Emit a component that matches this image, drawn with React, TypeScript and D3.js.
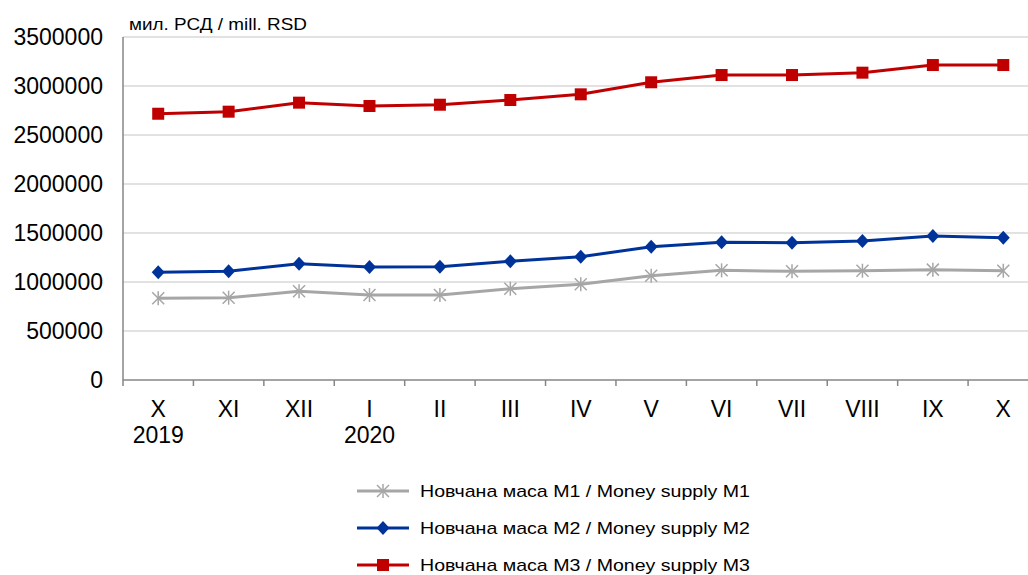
import React from "react";
import * as d3 from "d3";

const categories = ["X", "XI", "XII", "I", "II", "III", "IV", "V", "VI", "VII", "VIII", "IX", "X"];
const yearLabels = ["2019", "", "", "2020", "", "", "", "", "", "", "", "", ""];
const m1 = [834000, 840000, 905000, 867000, 867000, 932000, 977000, 1064000, 1119000, 1109000, 1115000, 1126000, 1115000];
const m2 = [1099000, 1109000, 1187000, 1153000, 1156000, 1211000, 1258000, 1360000, 1405000, 1401000, 1418000, 1469000, 1452000];
const m3 = [2717000, 2738000, 2830000, 2796000, 2809000, 2857000, 2915000, 3038000, 3112000, 3112000, 3136000, 3214000, 3214000];
const yTicks = [0, 500000, 1000000, 1500000, 2000000, 2500000, 3000000, 3500000];
const seriesNames = [
  "Новчана маса М1 / Money supply M1",
  "Новчана маса М2 / Money supply M2",
  "Новчана маса М3 / Money supply M3",
];
const unitLabel = "мил. РСД / mill. RSD";

const W = 1028;
const H = 575;
const left = 123;
const right = 1038.5;
const top = 37;
const bottom = 380;
const font = "'Liberation Sans', Arial, sans-serif";

const series = [
  { name: seriesNames[0], values: m1, color: "#a6a6a6", marker: "star" },
  { name: seriesNames[1], values: m2, color: "#003399", marker: "diamond" },
  { name: seriesNames[2], values: m3, color: "#c00000", marker: "square" },
];

function Marker({ type, x, y, color }: { type: string; x: number; y: number; color: string }) {
  if (type === "square") {
    return <rect x={x - 6} y={y - 6} width={12} height={12} fill={color} />;
  }
  if (type === "diamond") {
    return <path d={`M${x},${y - 7}L${x + 6.5},${y}L${x},${y + 7}L${x - 6.5},${y}Z`} fill={color} />;
  }
  const r = 6;
  return (
    <g stroke={color} strokeWidth={1.5}>
      <line x1={x - r} y1={y - r} x2={x + r} y2={y + r} />
      <line x1={x - r} y1={y + r} x2={x + r} y2={y - r} />
      <line x1={x} y1={y - r - 1} x2={x} y2={y + r + 1} />
    </g>
  );
}

export default function App() {
  const x = d3.scaleBand<string>().domain(categories.map((_, i) => String(i))).range([left, right]);
  const y = d3.scaleLinear().domain([0, 3500000]).range([bottom, top]);
  const cx = (i: number) => (x(String(i)) as number) + x.bandwidth() / 2;
  const line = d3
    .line<number>()
    .x((_, i) => cx(i))
    .y((d) => y(d));

  const ticksX = d3.range(categories.length + 1).map((i) => left + i * x.bandwidth());

  return (
    <svg
      width={W}
      height={H}
      style={{ position: "absolute", left: 0, top: 0, background: "#fff" }}
      fontFamily={font}
    >
      {yTicks.map((t) =>
        t > 0 ? (
          <line key={"g" + t} x1={left} x2={W} y1={y(t)} y2={y(t)} stroke="#d9d9d9" strokeWidth={1.5} />
        ) : null
      )}
      <line x1={left} x2={left} y1={top} y2={bottom} stroke="#868686" strokeWidth={1.5} />
      <line x1={left} x2={W} y1={bottom} y2={bottom} stroke="#868686" strokeWidth={1.5} />
      {ticksX.map((tx, i) => (
        <line key={"tx" + i} x1={tx} x2={tx} y1={bottom} y2={bottom + 6} stroke="#868686" strokeWidth={1.5} />
      ))}
      {yTicks.map((t) => (
        <text key={"yl" + t} x={103} y={y(t) + 8.2} textAnchor="end" fontSize={23} fill="#000">
          {t}
        </text>
      ))}
      {categories.map((c, i) => (
        <text key={"xl" + i} x={cx(i)} y={416.7} textAnchor="middle" fontSize={23} fill="#000">
          {c}
        </text>
      ))}
      {yearLabels.map((c, i) =>
        c ? (
          <text key={"yr" + i} x={cx(i)} y={443.3} textAnchor="middle" fontSize={23} fill="#000">
            {c}
          </text>
        ) : null
      )}
      <text x={129} y={30} fontSize={17} fill="#000" textLength={178} lengthAdjust="spacingAndGlyphs">
        {unitLabel}
      </text>
      {series.map((s) => (
        <g key={s.name}>
          <path d={line(s.values) || ""} fill="none" stroke={s.color} strokeWidth={3} strokeLinejoin="round" />
          {s.values.map((v, i) => (
            <Marker key={i} type={s.marker} x={cx(i)} y={y(v)} color={s.color} />
          ))}
        </g>
      ))}
      {series.map((s, i) => {
        const ly = 491 + i * 37;
        return (
          <g key={"lg" + i}>
            <line x1={357} x2={409} y1={ly} y2={ly} stroke={s.color} strokeWidth={3} />
            <Marker type={s.marker} x={383} y={ly} color={s.color} />
            <text
              x={420}
              y={ly + 6.3}
              fontSize={17}
              fill="#000"
              textLength={330}
              lengthAdjust="spacingAndGlyphs"
            >
              {s.name}
            </text>
          </g>
        );
      })}
    </svg>
  );
}
